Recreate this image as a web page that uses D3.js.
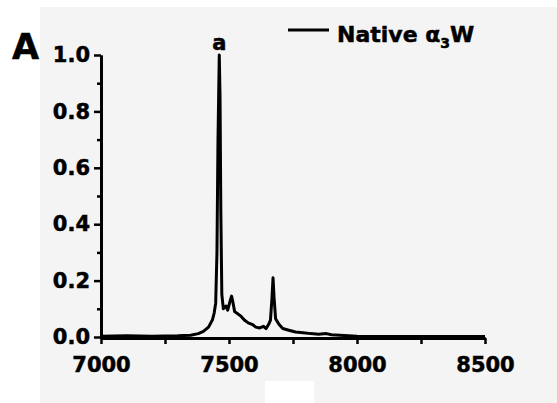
<!DOCTYPE html>
<html><head><meta charset="utf-8">
<script src="https://cdn.jsdelivr.net/npm/d3@7"></script>
<style>
body{margin:0;background:#fff;}
svg{display:block;}
text{font-family:"DejaVu Sans",sans-serif;font-weight:bold;fill:#000;stroke:#000;stroke-width:0.5px;}
</style></head>
<body>
<svg id="chart" width="557" height="403"></svg>
<script>
const massValues = [7000,7100,7200,7300,7350,7380,7400,7420,7435,7442,7448,7453,7457,7462,7465,7468,7472,7478,7488,7495,7502,7510,7516,7522,7530,7545,7560,7575,7590,7605,7620,7635,7645,7655,7662,7668,7672,7676,7682,7695,7710,7730,7760,7790,7820,7850,7880,7900,7950,8000,8100,8200,8300,8400,8500];
const intensityValues = [0.003,0.004,0.003,0.004,0.006,0.012,0.02,0.035,0.06,0.085,0.12,0.3,0.7,1.0,0.85,0.45,0.15,0.10,0.11,0.095,0.12,0.145,0.12,0.09,0.085,0.075,0.06,0.05,0.045,0.035,0.032,0.038,0.03,0.045,0.06,0.14,0.21,0.14,0.065,0.045,0.03,0.025,0.018,0.015,0.012,0.01,0.012,0.008,0.005,0.003,0.002,0.002,0.002,0.002,0.002];
const xTicks = [7000,7500,8000,8500];
const xMinorTicks = [7250,7750,8250];
const yTicks = [0,0.2,0.4,0.6,0.8,1.0];
const yMinorTicks = [0.1,0.3,0.5,0.7,0.9];
const seriesName = "Native α";
const panelLabel = "A";
const peakLabel = "a";

const svg = d3.select("#chart");
// background panel
svg.append("rect").attr("x",40).attr("y",7).attr("width",517).attr("height",396).attr("fill","#f4f4f4");
svg.append("rect").attr("x",265).attr("y",381).attr("width",49).attr("height",22).attr("fill","#ffffff");

const x = d3.scaleLinear().domain([7000,8500]).range([101,485]);
const y = d3.scaleLinear().domain([0,1]).range([337,55]);

const data = massValues.map((m,i)=>({m, v:intensityValues[i]}));

// data line
svg.append("path").datum(data)
  .attr("fill","none").attr("stroke","#000").attr("stroke-width",3).attr("stroke-linejoin","round")
  .attr("d", d3.line().x(d=>x(d.m)).y(d=>y(d.v)));

// axes
function styleAxis(g){
  g.select(".domain").attr("stroke","#000").attr("stroke-width",3);
  g.selectAll(".tick line").attr("stroke","#000").attr("stroke-width",2.5);
  g.selectAll("text").style("font-size","21px").style("font-family","DejaVu Sans").style("font-weight","bold").attr("fill","#000");
}
const gy = svg.append("g").attr("transform","translate(101,0)")
  .call(d3.axisLeft(y).tickValues(yTicks).tickFormat(d3.format(".1f")).tickSize(7).tickSizeOuter(0).tickPadding(4));
styleAxis(gy);
const gyMinor = svg.append("g").attr("transform","translate(101,0)")
  .call(d3.axisLeft(y).tickValues(yMinorTicks).tickFormat("").tickSize(4).tickSizeOuter(0));
styleAxis(gyMinor);

const gx = svg.append("g").attr("transform","translate(0,338)")
  .call(d3.axisBottom(x).tickValues(xTicks).tickFormat(d3.format("d")).tickSize(6).tickSizeOuter(0).tickPadding(13));
styleAxis(gx);
const gxMinor = svg.append("g").attr("transform","translate(0,338)")
  .call(d3.axisBottom(x).tickValues(xMinorTicks).tickFormat("").tickSize(6).tickSizeOuter(0));
styleAxis(gxMinor);

// panel label
svg.append("text").attr("x",12).attr("y",59).style("font-size","35px").text(panelLabel);
// peak label
svg.append("text").attr("x",x(7462)).attr("y",50).attr("text-anchor","middle").style("font-size","21px").text(peakLabel);

// legend
svg.append("line").attr("x1",288).attr("x2",329).attr("y1",30).attr("y2",30).attr("stroke","#000").attr("stroke-width",3);
const lt = svg.append("text").attr("x",337).attr("y",42).style("font-size","22px");
lt.append("tspan").text(seriesName);
lt.append("tspan").attr("dy",6).style("font-size","14px").text("3");
lt.append("tspan").attr("dy",-6).text("W");
</script>
</body></html>
